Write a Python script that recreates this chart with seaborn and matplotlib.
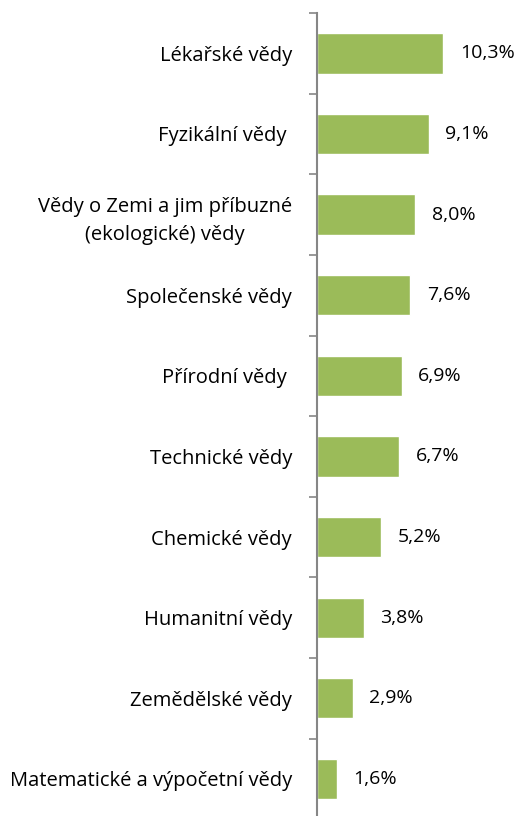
import matplotlib
matplotlib.use("Agg")
import matplotlib.pyplot as plt
import seaborn as sns
import pandas as pd
import numpy as np

categories = [
    "Lékařské vědy",
    "Fyzikální vědy ",
    "Vědy o Zemi a jim příbuzné\n(ekologické) vědy",
    "Společenské vědy",
    "Přírodní vědy ",
    "Technické vědy",
    "Chemické vědy",
    "Humanitní vědy",
    "Zemědělské vědy",
    "Matematické a výpočetní vědy",
]
values = [10.3, 9.1, 8.0, 7.6, 6.9, 6.7, 5.2, 3.8, 2.9, 1.6]

df = pd.DataFrame({"obor": categories, "podil": values})

sns.set_style("white")
plt.rcParams['font.family'] = ['Open Sans', 'DejaVu Sans']

fig = plt.figure(figsize=(5.18, 8.16), dpi=100)
ax = fig.add_axes([317 / 518, -0.004, 1 - 317 / 518, 0.988])

sns.barplot(data=df, x="podil", y="obor", color="#9BBB59", width=0.5,
            saturation=1, ax=ax)

ax.set_xlim(0, 16.4)
ax.set_ylim(len(categories) - 0.5, -0.5)
ax.set_xlabel("")
ax.set_ylabel("")
ax.set_xticks([])

for i, v in enumerate(values):
    ax.text(v + 1.35, i, f"{v:.1f}%".replace(".", ","), va="center", ha="left",
            fontsize=14, color="#000000")

ax.tick_params(axis="y", which="major", left=True, length=0, pad=18,
               labelsize=14.5, labelcolor="#000000")
for lbl in ax.get_yticklabels():
    lbl.set_multialignment("center")
    lbl.set_linespacing(1.55)
ax.set_yticks(np.arange(-0.5, len(categories), 1), minor=True)
ax.tick_params(axis="y", which="minor", left=True, length=6, width=1.2,
               color="#868686", direction="out")

for side in ["top", "right", "bottom"]:
    ax.spines[side].set_visible(False)
ax.spines["left"].set_color("#868686")
ax.spines["left"].set_linewidth(1.5)

fig.savefig("out.png", dpi=100)
